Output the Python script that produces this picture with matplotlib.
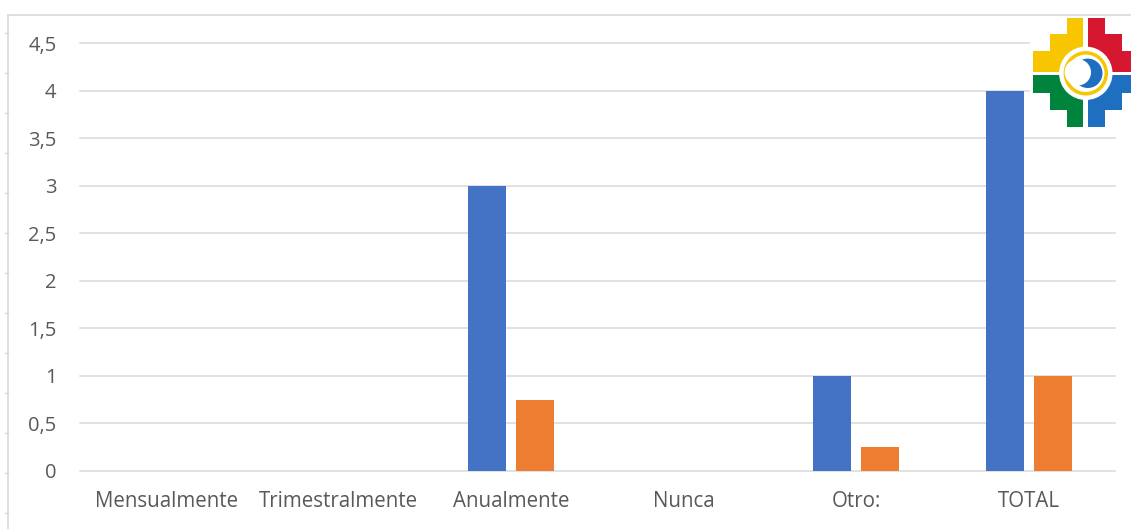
import matplotlib
matplotlib.use("Agg")
import matplotlib.pyplot as plt
from matplotlib.patches import Rectangle, Circle
from matplotlib.lines import Line2D

categories = ["Mensualmente", "Trimestralmente", "Anualmente", "Nunca", "Otro:", "TOTAL"]
serie_1 = [0, 0, 3, 0, 1, 4]
serie_2 = [0, 0, 0.75, 0, 0.25, 1]
y_ticks = [0, 0.5, 1, 1.5, 2, 2.5, 3, 3.5, 4, 4.5]
y_tick_labels = ["0", "0,5", "1", "1,5", "2", "2,5", "3", "3,5", "4", "4,5"]

W, H = 1131, 529
fig = plt.figure(figsize=(W / 100, H / 100), dpi=100)
fig.patch.set_facecolor("white")
plt.rcParams["font.family"] = ["Open Sans", "DejaVu Sans"]

TEXT = "#595959"
GRID = "#d9d9d9"

# outer frame lines (left and top) with small row marks
fig.add_artist(Line2D([8 / W, 8 / W], [0, 1 - 15 / H], color=GRID, lw=1.2))
fig.add_artist(Line2D([8 / W, 1], [1 - 15 / H, 1 - 15 / H], color=GRID, lw=1.2))
for yy in range(33, H, 40):
    fig.add_artist(Line2D([5 / W, 8 / W], [1 - yy / H, 1 - yy / H], color=GRID, lw=1))

# main plot area
x0, x1 = 80, 1115
y_bot, y_top = 471, 43
ax = fig.add_axes([x0 / W, 1 - y_bot / H, (x1 - x0) / W, (y_bot - y_top) / H])
ax.set_facecolor("none")
for s in ax.spines.values():
    s.set_visible(False)

xs = list(range(len(categories)))
bw = 0.22
off = 0.14
ax.bar([x - off for x in xs], serie_1, width=bw, color="#4472C4", zorder=3)
ax.bar([x + off for x in xs], serie_2, width=bw, color="#ED7D31", zorder=3)

ax.set_xlim(-0.5, len(categories) - 0.5)
ax.set_ylim(0, 4.5)
ax.set_yticks(y_ticks)
ax.set_yticklabels(y_tick_labels)
ax.set_xticks(xs)
ax.set_xticklabels(categories)
for yv in y_ticks:
    ax.axhline(yv, color=GRID, lw=1.1, zorder=1, clip_on=False)
ax.tick_params(axis="y", length=0, pad=17, labelsize=14.5, labelcolor=TEXT)
ax.tick_params(axis="x", length=0, pad=14.5, labelsize=14.8, labelcolor=TEXT)

# emblem in the upper right corner (pixel coordinates, y downward)
lx0, lx1, ly0, ly1 = 1030, 1131, 17, 128
lax = fig.add_axes([lx0 / W, 1 - ly1 / H, (lx1 - lx0) / W, (ly1 - ly0) / H])
lax.set_xlim(lx0, lx1)
lax.set_ylim(ly1, ly0)
lax.set_facecolor("white")
lax.axis("off")
lax.add_patch(Rectangle((lx0, ly0), lx1 - lx0, ly1 - ly0, color="white", zorder=0))

cx, cy = 1085.8, 73.3
s = 16.7
gx, gy = 2.5, 1.5

def quadrant(sx, sy, color):
    for k in range(1, 4):
        w = k * s
        h = (3.25 - (k - 1)) * s if sy < 0 else (3.1 - (k - 1)) * s
        xa = cx + gx if sx > 0 else cx - gx - w
        ya = cy - gy - h if sy < 0 else cy + gy
        lax.add_patch(Rectangle((xa, ya), w, h, color=color, lw=0, zorder=1))

quadrant(-1, -1, "#f7c600")  # top-left
quadrant(1, -1, "#d5172f")   # top-right
quadrant(-1, 1, "#00843d")   # bottom-left
quadrant(1, 1, "#1f6fc0")    # bottom-right

lax.add_patch(Circle((cx, cy), 26, color="white", zorder=2))
lax.add_patch(Circle((cx, cy), 21.5, color="#f7c600", zorder=3))
lax.add_patch(Circle((cx, cy), 18, color="white", zorder=4))
lax.add_patch(Circle((cx + 2, cy), 14, color="#1f6fc0", zorder=5))
lax.add_patch(Circle((cx - 8, cy - 1), 12.5, color="white", zorder=6))

fig.savefig("out.png", dpi=100)
